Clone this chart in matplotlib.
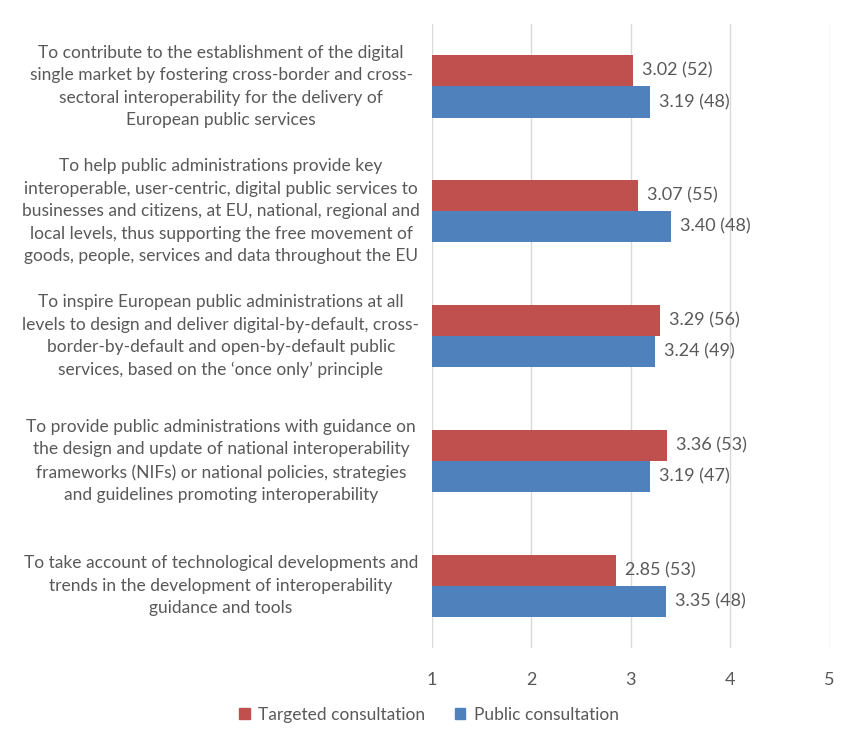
import matplotlib
matplotlib.use('Agg')
import matplotlib.pyplot as plt
import matplotlib.transforms as mtransforms
from matplotlib.patches import Patch
import numpy as np

plt.rcParams['font.family'] = ['Lato', 'DejaVu Sans']

categories = [
    "To contribute to the establishment of the digital\nsingle market by fostering cross-border and cross-\nsectoral interoperability for the delivery of\nEuropean public services",
    "To help public administrations provide key\ninteroperable, user-centric, digital public services to\nbusinesses and citizens, at EU, national, regional and\nlocal levels, thus supporting the free movement of\ngoods, people, services and data throughout the EU",
    "To inspire European public administrations at all\nlevels to design and deliver digital-by-default, cross-\nborder-by-default and open-by-default public\nservices, based on the \u2018once only\u2019 principle",
    "To provide public administrations with guidance on\nthe design and update of national interoperability\nframeworks (NIFs) or national policies, strategies\nand guidelines promoting interoperability",
    "To take account of technological developments and\ntrends in the development of interoperability\nguidance and tools",
]
targeted = [3.02, 3.07, 3.29, 3.36, 2.85]
targeted_n = [52, 55, 56, 53, 53]
public = [3.19, 3.40, 3.24, 3.19, 3.35]
public_n = [48, 48, 49, 47, 48]
x_ticks = [1, 2, 3, 4, 5]

red = '#C0504D'
blue = '#4F81BD'
grid_col = '#D9D9D9'
text_col = '#595959'
fs = 13
fs_cat = 12.5

fig = plt.figure(figsize=(8.58, 7.46), dpi=100)
ax = fig.add_axes([0.5035, 0.131, 0.4635, 0.837])

y = np.arange(len(categories))
h = 0.25
base = 1
ax.barh(y - h / 2, np.array(targeted) - base, left=base, height=h, color=red)
ax.barh(y + h / 2, np.array(public) - base, left=base, height=h, color=blue)

for i in range(len(categories)):
    ax.text(targeted[i] + 0.09, y[i] - h / 2, f"{targeted[i]:.2f} ({targeted_n[i]})",
            va='center', ha='left', fontsize=fs, color=text_col)
    ax.text(public[i] + 0.09, y[i] + h / 2, f"{public[i]:.2f} ({public_n[i]})",
            va='center', ha='left', fontsize=fs, color=text_col)

trans = mtransforms.blended_transform_factory(fig.transFigure, ax.transData)
for i, lab in enumerate(categories):
    ax.text(221 / 858, y[i], lab, transform=trans, ha='center', va='center',
            multialignment='center', fontsize=fs_cat, color=text_col, linespacing=1.5)

ax.set_xlim(1, 5)
ax.set_ylim(len(categories) - 0.5, -0.5)
ax.set_xticks(x_ticks)
ax.set_xticklabels([str(t) for t in x_ticks], fontsize=fs, color=text_col)
ax.set_yticks([])
ax.tick_params(axis='x', length=0, pad=17)
ax.grid(axis='x', color=grid_col, linewidth=1)
ax.set_axisbelow(True)
for s in ax.spines.values():
    s.set_visible(False)

handles = [Patch(color=red, label='Targeted consultation'),
           Patch(color=blue, label='Public consultation')]
fig.legend(handles=handles, loc='center', bbox_to_anchor=(0.5, 1 - 715 / 746),
           ncol=2, frameon=False, fontsize=fs_cat, handlelength=0.6, handleheight=0.6,
           labelcolor=text_col, columnspacing=1.7, handletextpad=0.5)

fig.savefig('out.png', dpi=100)
